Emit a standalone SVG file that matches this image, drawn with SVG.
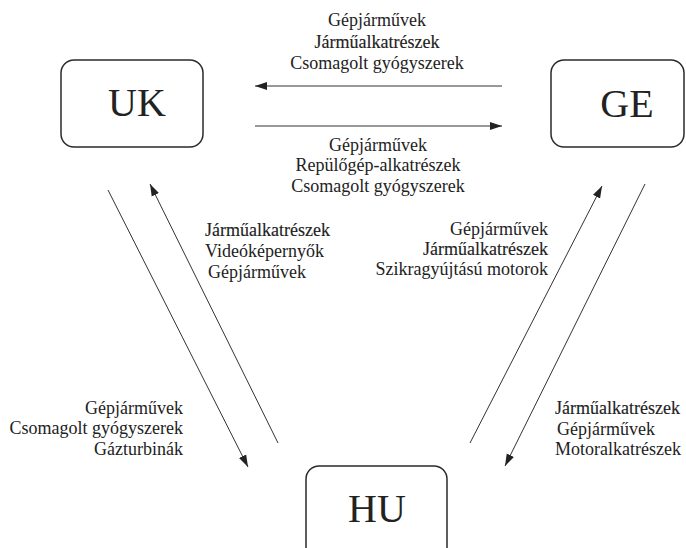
<svg xmlns="http://www.w3.org/2000/svg" width="686" height="548" viewBox="0 0 686 548">
  <style>
    .box { fill: #ffffff; stroke: #2a2a2a; stroke-width: 1.5; }
    .big { font-family: "Liberation Serif", "Times New Roman", serif; font-size: 40px; fill: #222; text-anchor: middle; }
    .lbl { font-family: "Liberation Serif", "Times New Roman", serif; font-size: 18px; fill: #222; }
    .heavy { stroke: #222; stroke-width: 0.15; }
    .c { text-anchor: middle; }
    .e { text-anchor: end; }
    .s { text-anchor: start; }
    .conn { stroke: #333; stroke-width: 1; fill: none; marker-end: url(#arrow); }
  </style>
  <defs>
    <marker id="arrow" markerUnits="userSpaceOnUse" markerWidth="12" markerHeight="9" refX="12" refY="4.5" orient="auto">
      <path d="M0,0.5 L12,4.5 L0,8.5 z" fill="#222"/>
    </marker>
  </defs>
  <rect width="686" height="548" fill="#ffffff"/>

  <g id="node-UK">
    <rect class="box" x="61" y="60" width="142" height="87" rx="13"/>
    <text class="big" x="137" y="116">UK</text>
  </g>
  <g id="node-GE">
    <rect class="box" x="551" y="60" width="133" height="87" rx="13"/>
    <text class="big" x="627" y="117">GE</text>
  </g>
  <g id="node-HU">
    <rect class="box" x="306" y="466" width="141" height="100" rx="13"/>
    <text class="big" x="377" y="522">HU</text>
  </g>

  <g id="connectors">
    <line class="conn" x1="502" y1="86" x2="255" y2="86"/>
    <line class="conn" x1="255" y1="126" x2="502" y2="126"/>
    <line class="conn" x1="108" y1="190" x2="248" y2="467"/>
    <line class="conn" x1="278" y1="443" x2="150" y2="184"/>
    <line class="conn" x1="470" y1="443" x2="602" y2="186"/>
    <line class="conn" x1="645" y1="184" x2="505" y2="466"/>
  </g>

  <g id="labels">
    <text class="lbl c" x="377" y="26">Gépjárművek</text>
    <text class="lbl c heavy" x="377" y="48">Járműalkatrészek</text>
    <text class="lbl c" x="377" y="69">Csomagolt gyógyszerek</text>

    <text class="lbl c" x="378" y="151">Gépjárművek</text>
    <text class="lbl c" x="378" y="171">Repülőgép-alkatrészek</text>
    <text class="lbl c" x="378" y="192">Csomagolt gyógyszerek</text>

    <text class="lbl s heavy" x="205" y="236">Járműalkatrészek</text>
    <text class="lbl s" x="205" y="257">Videóképernyők</text>
    <text class="lbl s" x="208" y="278">Gépjárművek</text>

    <text class="lbl e" x="548" y="235">Gépjárművek</text>
    <text class="lbl e heavy" x="548" y="255">Járműalkatrészek</text>
    <text class="lbl e" x="548" y="275">Szikragyújtású motorok</text>

    <text class="lbl e" x="183" y="414">Gépjárművek</text>
    <text class="lbl e" x="183" y="434">Csomagolt gyógyszerek</text>
    <text class="lbl e" x="183" y="455">Gázturbinák</text>

    <text class="lbl s heavy" x="555" y="414">Járműalkatrészek</text>
    <text class="lbl s" x="557" y="435">Gépjárművek</text>
    <text class="lbl s" x="555" y="455">Motoralkatrészek</text>
  </g>
</svg>
